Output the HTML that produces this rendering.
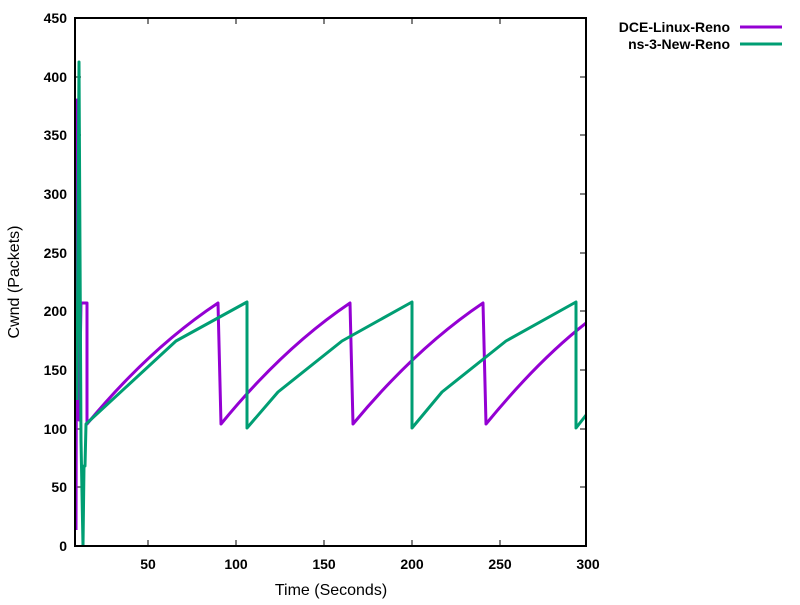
<!DOCTYPE html>
<html><head><meta charset="utf-8"><style>body{margin:0;background:#fff}</style></head><body>
<svg width="800" height="600" xmlns="http://www.w3.org/2000/svg" font-family="Liberation Sans, sans-serif">
<defs><clipPath id="c"><rect x="75" y="18" width="511" height="528"/></clipPath></defs>
<g font-size="14" font-weight="bold" text-anchor="end" fill="#000">
<text x="67" y="551">0</text><text x="67" y="492">50</text><text x="67" y="434">100</text><text x="67" y="375">150</text><text x="67" y="316">200</text><text x="67" y="258">250</text><text x="67" y="199">300</text><text x="67" y="140">350</text><text x="67" y="82">400</text><text x="67" y="23">450</text>
</g>
<g font-size="14" font-weight="bold" text-anchor="middle">
<text x="148" y="569">50</text><text x="236" y="569">100</text><text x="324" y="569">150</text><text x="412" y="569">200</text><text x="500" y="569">250</text><text x="588" y="569">300</text>
</g>
<text x="331" y="595" font-size="16" text-anchor="middle">Time (Seconds)</text>
<text x="19" y="282" font-size="16" text-anchor="middle" transform="rotate(-90 19 282)">Cwnd (Packets)</text>
<g stroke="#000" stroke-width="1">
<path d="M75 487h6M75 429h6M75 370h6M75 311h6M75 253h6M75 194h6M75 135h6M75 77h6M586 487h-6M586 429h-6M586 370h-6M586 311h-6M586 253h-6M586 194h-6M586 135h-6M586 77h-6M148 546v-6M236 546v-6M324 546v-6M412 546v-6M500 546v-6M148 18v6M236 18v6M324 18v6M412 18v6M500 18v6"/>
</g>
<g clip-path="url(#c)" fill="none" stroke-width="3" stroke-linejoin="round">
<path stroke="#9400d3" d="M76 530L77 100L79 420L81 303L87 303L87 424Q150 348 218 303L221 424Q283 348 350 303L353 424Q416 348 483 303L486 424Q540 358 590 320"/>
<path stroke="#009e73" d="M77 400L79 62L81 440L83 546L84 466L85 466L86 424L176 341L247 302L247 428L278 392L342 341L412 302L412 428L442 392L506 341L576 302L576 428L590 410"/>
</g>
<rect x="75" y="18" width="511" height="528" fill="none" stroke="#000" stroke-width="2"/>
<g font-size="14" font-weight="bold" text-anchor="end">
<text x="730" y="32">DCE-Linux-Reno</text><text x="730" y="49">ns-3-New-Reno</text>
</g>
<path d="M740 27h42" stroke="#9400d3" stroke-width="3"/>
<path d="M740 44h42" stroke="#009e73" stroke-width="3"/>
</svg>
</body></html>
